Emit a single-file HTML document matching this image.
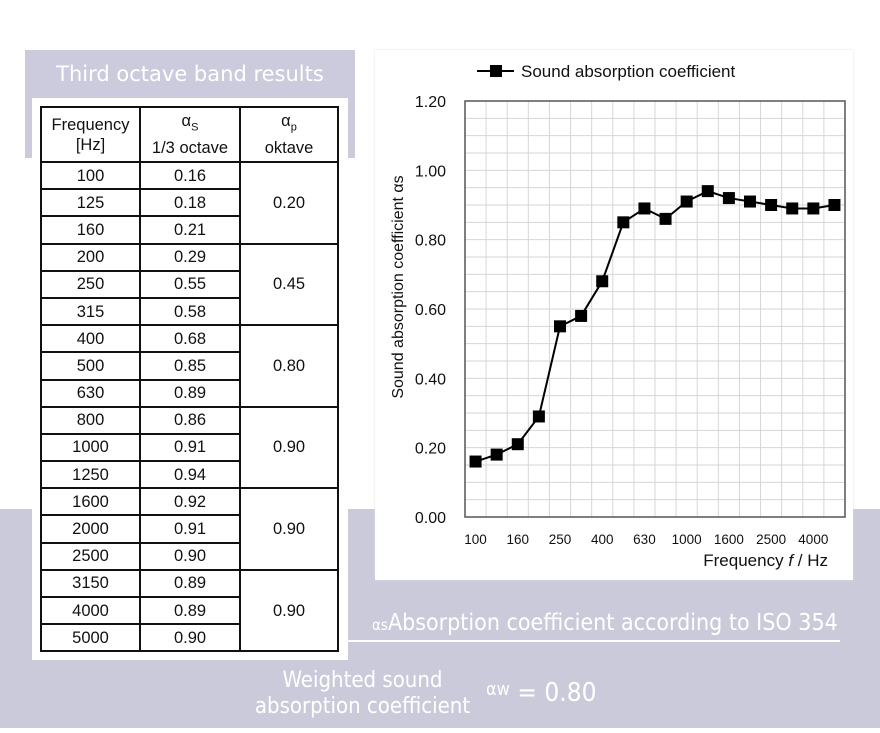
<!DOCTYPE html>
<html><head><meta charset="utf-8"><style>
body{margin:0;width:880px;height:733px;position:relative;background:#fff;font-family:"Liberation Sans",sans-serif;overflow:hidden}
.band{position:absolute;left:0;top:509px;width:880px;height:219px;background:#cbcadb}
.titlebox{position:absolute;left:25px;top:50px;width:330px;height:108px;background:#cccbdd}
.title{position:absolute;left:25px;top:62px;width:330px;text-align:center;color:#fff;font-size:21px;font-family:"DejaVu Sans","Liberation Sans",sans-serif;font-weight:500}
.card{position:absolute;left:32px;top:98px;width:316px;height:562px;background:#fff}
table{position:absolute;left:40px;top:106px;border-collapse:collapse;font-size:16.5px;color:#111;table-layout:fixed}
tr{height:27.2px}
td{border:2px solid #111;text-align:center;padding:0;line-height:20px}
.chartcard{position:absolute;left:375px;top:50px;width:478px;height:530px;background:#fff;box-shadow:0 0 2px #ddd}
.t1{position:absolute;left:372px;top:610px;color:#fff;font-size:23px;font-family:"DejaVu Sans Condensed","Liberation Sans Narrow","Liberation Sans",sans-serif;white-space:nowrap}
.line{position:absolute;left:345px;top:640px;width:495px;height:2px;background:#fff}
.t2{position:absolute;left:240px;top:668px;width:245px;color:#fff;font-size:22px;text-align:center;line-height:26px;font-family:"DejaVu Sans Condensed","Liberation Sans Narrow",sans-serif}
.t3{position:absolute;left:486px;top:678px;color:#fff;font-size:26px;font-family:"DejaVu Sans Condensed","Liberation Sans Narrow",sans-serif}
</style></head><body>
<div class="band"></div>
<div class="titlebox"></div>
<div class="title">Third octave band results</div>
<div class="card"></div>
<table>
<tr style="height:55px"><td style="width:97px">Frequency<br>[Hz]</td><td style="width:98px">α<sub style="font-size:11px">S</sub><br>1/3 octave</td><td style="width:96px">α<sub style="font-size:11px">p</sub><br>oktave</td></tr>
<tr><td>100</td><td>0.16</td><td rowspan="3">0.20</td></tr><tr><td>125</td><td>0.18</td></tr><tr><td>160</td><td>0.21</td></tr>
<tr><td>200</td><td>0.29</td><td rowspan="3">0.45</td></tr><tr><td>250</td><td>0.55</td></tr><tr><td>315</td><td>0.58</td></tr>
<tr><td>400</td><td>0.68</td><td rowspan="3">0.80</td></tr><tr><td>500</td><td>0.85</td></tr><tr><td>630</td><td>0.89</td></tr>
<tr><td>800</td><td>0.86</td><td rowspan="3">0.90</td></tr><tr><td>1000</td><td>0.91</td></tr><tr><td>1250</td><td>0.94</td></tr>
<tr><td>1600</td><td>0.92</td><td rowspan="3">0.90</td></tr><tr><td>2000</td><td>0.91</td></tr><tr><td>2500</td><td>0.90</td></tr>
<tr><td>3150</td><td>0.89</td><td rowspan="3">0.90</td></tr><tr><td>4000</td><td>0.89</td></tr><tr><td>5000</td><td>0.90</td></tr>
</table>
<div class="chartcard"></div>
<svg id="chart" width="880" height="733" style="position:absolute;left:0;top:0"></svg>
<div class="t1"><span style="font-size:15px">αs</span>Absorption coefficient according to ISO 354</div>
<div class="line"></div>
<div class="t2">Weighted sound<br>absorption coefficient</div>
<div class="t3"><span style="font-size:18px;vertical-align:6px">αw</span> = 0.80</div>
<script>
const categories=["100","125","160","200","250","315","400","500","630","800","1000","1250","1600","2000","2500","3150","4000","5000"];
const values=[0.16,0.18,0.21,0.29,0.55,0.58,0.68,0.85,0.89,0.86,0.91,0.94,0.92,0.91,0.90,0.89,0.89,0.90];
const yTicks=[0,0.2,0.4,0.6,0.8,1.0,1.2];
const svg=document.getElementById('chart');const NS='http://www.w3.org/2000/svg';
const L=465,R=845,T=101,B=517,bw=(R-L)/categories.length;
const x=i=>L+bw*(i+0.5), y=v=>B-(v/1.2)*(B-T);
function mk(t,a,p){const e=document.createElementNS(NS,t);for(const k in a)e.setAttribute(k,a[k]);(p||svg).appendChild(e);return e;}
for(let v=0.05;v<1.2;v+=0.05){const l=mk('line',{x1:L,x2:R,y1:y(v),y2:y(v),stroke:'#d6d6d6','stroke-width':1});}
for(let i=1;i<categories.length;i++){const l=mk('line',{x1:L+bw*i,x2:L+bw*i,y1:T,y2:B,stroke:'#d6d6d6','stroke-width':1});}
const box=mk('rect',{x:L,y:T,width:R-L,height:B-T,fill:'none',stroke:'#555','stroke-width':1.5});

yTicks.forEach(v=>{const t=mk('text',{x:446,y:y(v)+6,'text-anchor':'end','font-size':16,fill:'#111'});t.textContent=v.toFixed(2);});
categories.forEach((c,i)=>{if(i%2)return;const t=mk('text',{x:x(i),y:544,'text-anchor':'middle','font-size':13.5,fill:'#111'});t.textContent=c;});
const pl=mk('polyline',{points:values.map((v,i)=>x(i)+','+y(v)).join(' '),fill:'none',stroke:'#000','stroke-width':2});

values.forEach((v,i)=>{const r=mk('rect',{x:x(i)-6,y:y(v)-6,width:12,height:12,fill:'#000'});});
const yt=mk('text',{transform:'translate(403,287) rotate(-90)','text-anchor':'middle','font-size':16,fill:'#111'});yt.textContent='Sound absorption coefficient αs';

const xt=mk('text',{x:828,y:566,'text-anchor':'end','font-size':17,fill:'#111'});xt.innerHTML='Frequency <tspan font-style="italic">f</tspan> / Hz';

const lg=mk('g',{});
mk('line',{x1:477,x2:514,y1:71,y2:71,stroke:'#000','stroke-width':2},lg);mk('rect',{x:490,y:65,width:12,height:12,fill:'#000'},lg);
const lt=mk('text',{x:521,y:77,'font-size':17,fill:'#111'},lg);lt.textContent='Sound absorption coefficient';
</script>
</body></html>
